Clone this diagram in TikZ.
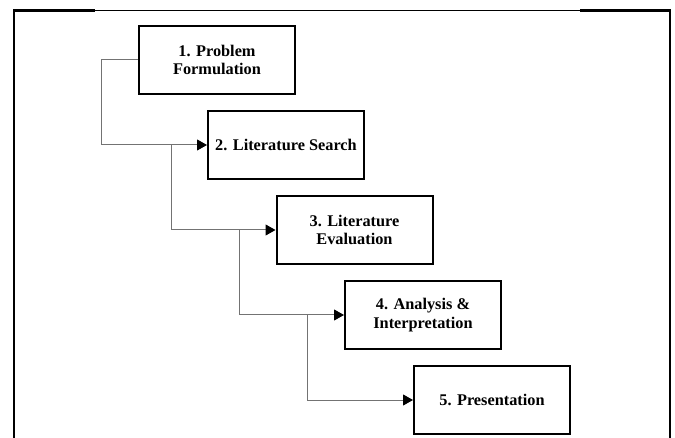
\documentclass[tikz,border=0pt]{standalone}
\usepackage{fontspec}
\setmainfont{Liberation Serif}
\usetikzlibrary{arrows.meta}
\tikzset{
  stepbox/.style={draw=black, line width=2pt, minimum width=156pt, minimum height=68pt,
    align=center, font=\fontsize{16.3}{18.5}\selectfont\bfseries, inner sep=0pt},
  conn/.style={draw=black!55, line width=1pt},
  arr/.style={conn, -{Triangle[length=10pt,width=11pt,black]}},
  frame/.style={draw=black, line width=2.2pt},
}
\begin{document}
\begin{tikzpicture}[x=1pt,y=-1pt]
\useasboundingbox (0,0) rectangle (675,438);
% frame
\draw[frame] (14,440) -- (14,10.5) -- (95,10.5);
\draw[draw=black, line width=1pt] (95,10.5) -- (580,10.5);
\draw[frame] (580,10.5) -- (670,10.5) -- (670,440);
% boxes
\node[stepbox] (b1) at (217,60) {1. Problem\\Formulation};
\node[stepbox] (b2) at (286,145) {2. Literature Search};
\node[stepbox] (b3) at (354.5,230) {3. Literature\\Evaluation};
\node[stepbox] (b4) at (423,315) {4. Analysis \&\\Interpretation};
\node[stepbox] (b5) at (492,400) {5. Presentation};
% connectors
\coordinate (c1) at (101,60);
\coordinate (c2) at (171,145);
\coordinate (c3) at (239,230);
\coordinate (c4) at (307,315);
\draw[arr] (b1.west) -- (c1) |- (b2.west);
\draw[arr] (c2) |- (b3.west);
\draw[arr] (c3) |- (b4.west);
\draw[arr] (c4) |- (b5.west);
\end{tikzpicture}
\end{document}
